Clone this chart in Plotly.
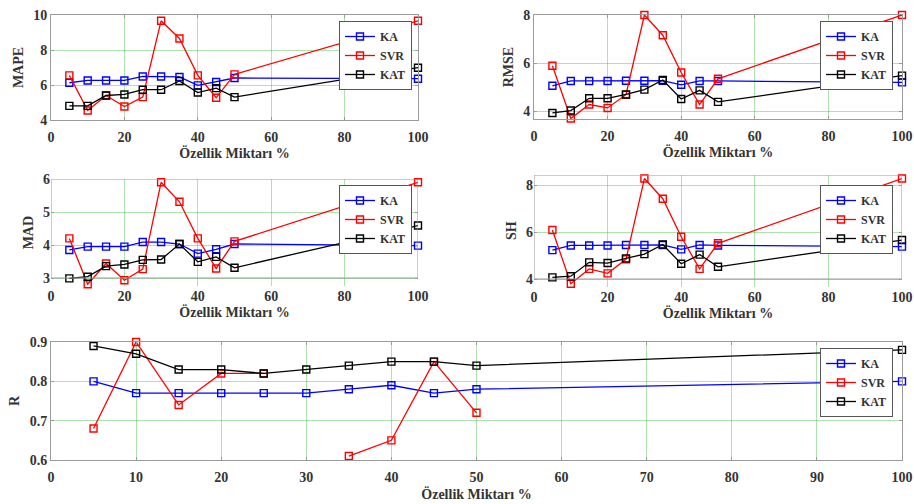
import plotly.graph_objects as go

# ---------------- data ----------------
x_vals = [5, 10, 15, 20, 25, 30, 35, 40, 45, 50, 100]
series_names = ["KA", "SVR", "KAT"]

mape_ka = [6.13, 6.26, 6.26, 6.26, 6.49, 6.49, 6.46, 5.98, 6.17, 6.40, 6.36]
mape_svr = [6.55, 4.54, 5.40, 4.77, 5.31, 9.67, 8.66, 6.55, 5.27, 6.61, 9.67]
mape_kat = [4.81, 4.81, 5.40, 5.46, 5.73, 5.73, 6.23, 5.57, 5.82, 5.31, 6.99]

rmse_ka = [5.06, 5.26, 5.26, 5.26, 5.27, 5.27, 5.27, 5.10, 5.26, 5.26, 5.20]
rmse_svr = [5.89, 3.70, 4.28, 4.14, 4.69, 8.00, 7.16, 5.61, 4.28, 5.35, 8.00]
rmse_kat = [3.93, 4.03, 4.54, 4.54, 4.70, 4.90, 5.30, 4.51, 4.87, 4.39, 5.48]

mad_ka = [3.85, 3.95, 3.95, 3.95, 4.09, 4.09, 4.03, 3.74, 3.87, 4.03, 3.98]
mad_svr = [4.20, 2.81, 3.44, 2.93, 3.27, 5.90, 5.31, 4.20, 3.29, 4.11, 5.90]
mad_kat = [2.99, 3.04, 3.36, 3.41, 3.55, 3.56, 4.03, 3.49, 3.64, 3.31, 4.59]

sh_ka = [5.23, 5.43, 5.43, 5.43, 5.45, 5.45, 5.45, 5.26, 5.45, 5.43, 5.38]
sh_svr = [6.09, 3.80, 4.43, 4.24, 4.84, 8.28, 7.42, 5.80, 4.43, 5.52, 8.28]
sh_kat = [4.07, 4.12, 4.71, 4.68, 4.88, 5.06, 5.47, 4.65, 5.04, 4.52, 5.66]

r_ka = [0.80, 0.77, 0.77, 0.77, 0.77, 0.77, 0.78, 0.79, 0.77, 0.78, 0.80]
r_svr = [0.68, 0.90, 0.74, 0.82, 0.82, None, 0.61, 0.65, 0.85, 0.72, None]
r_kat = [0.89, 0.87, 0.83, 0.83, 0.82, 0.83, 0.84, 0.85, 0.85, 0.84, 0.88]

x_title = "Özellik Miktarı %"

# ---------------- styling ----------------
colors = ["#0000ff", "#ff0000", "#000000"]
FONT = "Liberation Serif"
TXT = "#333333"
GRID = "rgba(0,170,0,0.32)"
FRAME = "#9a9a9a"

W, H = 914, 504

def px_x(p):
    return p / W

def px_y(p):
    return 1 - p / H

# (ytitle, data, x-domain px, frame px (top,bottom), frame y-range, extra low value (markers below frame) or None,
#  ydtick, xdtick, legend right px, legend top px, xtitle standoff)
panels = [
    ("MAPE", [mape_ka, mape_svr, mape_kat], (51, 418), (15, 120), [4, 10], None, 2, 20, 412, 21, 3),
    ("RMSE", [rmse_ka, rmse_svr, rmse_kat], (534, 902), (15, 119), [3.68, 8], None, 2, 20, 893, 21, 3),
    ("MAD", [mad_ka, mad_svr, mad_kat], (51, 418), (179, 278), [3, 6], 2.75, 1, 20, 412, 185, 3),
    ("SH", [sh_ka, sh_svr, sh_kat], (534, 902), (175, 279), [4, 8.43], 3.68, 2, 20, 893, 185, 3),
    ("R", [r_ka, r_svr, r_kat], (51, 902), (342, 460), [0.6, 0.9], None, 0.1, 10, 893, 348, 5),
]

fig = go.Figure()
layout = dict(
    width=W, height=H,
    margin=dict(l=0, r=0, t=0, b=0),
    paper_bgcolor="white", plot_bgcolor="white",
    font=dict(family=FONT, size=14, color=TXT, weight="bold"),
    showlegend=True,
)
shapes = []

for i, (ytitle, data, xd, yd, yr, ylo, ydt, xdt, lr, lt, xso) in enumerate(panels):
    k = "" if i == 0 else str(i + 1)
    leg = "legend" + k
    for name, ys, c in zip(series_names, data, colors):
        fig.add_trace(go.Scatter(
            x=x_vals, y=ys, name=name, mode="lines+markers",
            line=dict(color=c, width=1.3),
            marker=dict(symbol="square-open", size=7, color=c, line=dict(width=1.4, color=c)),
            xaxis="x" + k, yaxis="y" + k, legend=leg, cliponaxis=False,
        ))

    top_px, bot_px = yd
    rng = list(yr)
    extended = ylo is not None
    if extended:
        ppu = (bot_px - top_px) / (yr[1] - yr[0])
        bot_px = bot_px + (yr[0] - ylo) * ppu
        rng = [ylo, yr[1]]
        # white strip below the frame hides grid there, plus the explicit frame
        shapes.append(dict(type="rect", xref="x" + k, yref="y" + k, x0=0, x1=100, y0=ylo, y1=yr[0],
                           fillcolor="white", line=dict(width=0), layer="below"))
        shapes.append(dict(type="rect", xref="x" + k, yref="y" + k, x0=0, x1=100, y0=yr[0], y1=yr[1],
                           line=dict(color=FRAME, width=1), layer="above"))

    layout["xaxis" + k] = dict(
        domain=[px_x(xd[0]), px_x(xd[1])], anchor="y" + k,
        range=[0, 100], dtick=xdt, tick0=0,
        showgrid=True, gridcolor=GRID, gridwidth=1, zeroline=False,
        showline=not extended, linecolor=FRAME, linewidth=1, mirror="allticks" if not extended else False,
        ticks="" if extended else "inside", ticklen=3, tickcolor=FRAME,
        ticklabelstandoff=0 if extended else 4, ticklabeloverflow="allow",
        tickfont=dict(family=FONT, size=14, color=TXT, weight="bold"),
        title=dict(text=x_title, standoff=xso,
                   font=dict(family=FONT, size=14, color=TXT, weight="bold")),
        automargin=False,
    )
    layout["yaxis" + k] = dict(
        domain=[px_y(bot_px), px_y(top_px)], anchor="x" + k,
        range=rng, dtick=ydt, tick0=0,
        showgrid=True, gridcolor=GRID, gridwidth=1, zeroline=False,
        showline=not extended, linecolor=FRAME, linewidth=1, mirror="allticks",
        ticks="inside", ticklen=3, tickcolor=FRAME,
        ticklabeloverflow="allow",
        tickfont=dict(family=FONT, size=14, color=TXT, weight="bold"),
        title=dict(text=ytitle, standoff=6,
                   font=dict(family=FONT, size=14, color=TXT, weight="bold")),
        automargin=False,
    )
    layout[leg] = dict(
        x=px_x(lr), y=px_y(lt), xanchor="right", yanchor="top",
        bgcolor="white", bordercolor="#555555", borderwidth=1,
        font=dict(family=FONT, size=12, color=TXT, weight="bold"),
        itemwidth=30, tracegroupgap=0,
    )

layout["shapes"] = shapes
fig.update_layout(**layout)
fig.write_html("out.html", config={"displayModeBar": False},
               post_script="document.body.style.margin='0px';")
